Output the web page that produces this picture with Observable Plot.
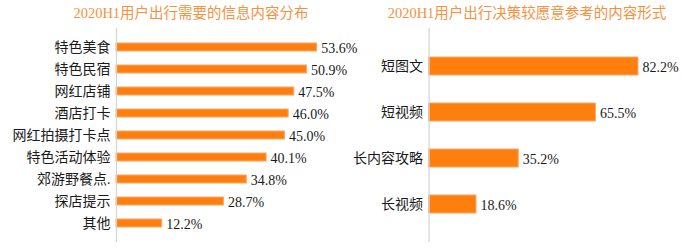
<!DOCTYPE html>
<html>
<head>
<meta charset="utf-8">
<script src="https://cdn.jsdelivr.net/npm/d3@7"></script>
<script src="https://cdn.jsdelivr.net/npm/@observablehq/plot@0.6"></script>
<style>
  html, body { margin: 0; padding: 0; background: #fff; }
  #wrap { position: relative; width: 689px; height: 249px; overflow: hidden;
          font-family: "Liberation Serif", "Noto Sans CJK SC", serif; }
  .title { position: absolute; top: 3px; color: #F4923F; font-size: 14.5px; line-height: 20px;
           white-space: nowrap; transform: translateX(-50%); }
  .panel { position: absolute; top: 0; overflow: visible !important; }
</style>
</head>
<body>
<div id="wrap"></div>
<script>
const leftTitle = "2020H1用户出行需要的信息内容分布";
const leftCategories = ["特色美食", "特色民宿", "网红店铺", "酒店打卡", "网红拍摄打卡点", "特色活动体验", "郊游野餐点.", "探店提示", "其他"];
const leftValues = [53.6, 50.9, 47.5, 46.0, 45.0, 40.1, 34.8, 28.7, 12.2];

const rightTitle = "2020H1用户出行决策较愿意参考的内容形式";
const rightCategories = ["短图文", "短视频", "长内容攻略", "长视频"];
const rightValues = [82.2, 65.5, 35.2, 18.6];

const FONT = '"Liberation Serif", "Noto Sans CJK SC", serif';
const BAR = "#FF7F0E";
const BAR_STROKE = "#FBA868";

function panel(cats, vals, opts) {
  const data = cats.map((c, i) => ({cat: c, v: vals[i]}));
  return Plot.plot({
    width: opts.width,
    height: 249,
    marginLeft: opts.marginLeft,
    marginRight: opts.marginRight,
    marginTop: 28,
    marginBottom: 7,
    style: {fontFamily: FONT, fontSize: "14px", color: "#1a1a1a", background: "transparent", overflow: "visible"},
    x: {domain: opts.xDomain, axis: null},
    y: {domain: cats, padding: opts.padding, label: null, tickSize: 0, tickPadding: 6},
    marks: [
      Plot.barX(data, {x: "v", y: "cat", fill: BAR, stroke: BAR_STROKE, strokeWidth: 1}),
      Plot.ruleX([0], {stroke: "#d3d3d3", strokeWidth: 1.2}),
      Plot.text(data, {x: "v", y: "cat", text: d => d.v.toFixed(1) + "%", textAnchor: "start",
                       dx: 4, dy: 1, fontSize: 14, fill: "#1a1a1a", fontFamily: FONT}),
      Plot.axisY({tickSize: 0, tickPadding: 6, fontSize: 14, label: null})
    ]
  });
}

const wrap = document.getElementById("wrap");

const t1 = document.createElement("div");
t1.className = "title"; t1.style.left = "191px"; t1.textContent = leftTitle;
wrap.appendChild(t1);
const t2 = document.createElement("div");
t2.className = "title"; t2.style.left = "527px"; t2.textContent = rightTitle;
wrap.appendChild(t2);

const p2 = panel(rightCategories, rightValues, {width: 344, marginLeft: 83.6, marginRight: 5.7, xDomain: [0, 100], padding: 0.6});
p2.classList.add("panel"); p2.style.left = "345px";
wrap.appendChild(p2);

const p1 = panel(leftCategories, leftValues, {width: 345, marginLeft: 116, marginRight: 4.4, xDomain: [0, 60], padding: 0.62});
p1.classList.add("panel"); p1.style.left = "0px";
wrap.appendChild(p1);
</script>
</body>
</html>
